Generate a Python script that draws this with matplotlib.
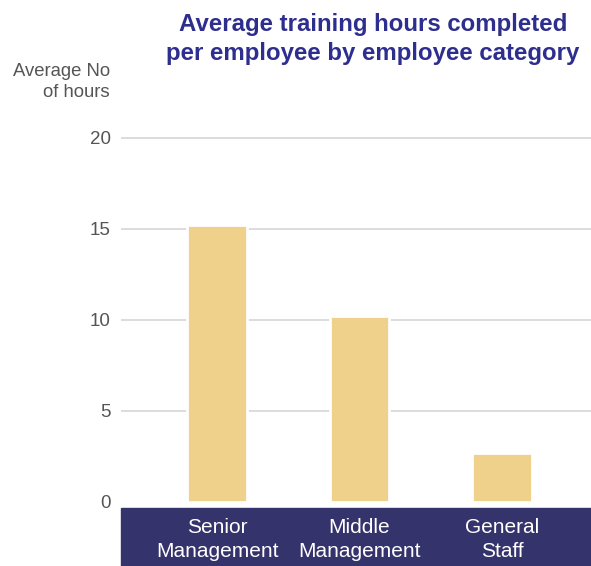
import matplotlib.pyplot as plt
from matplotlib.patches import Rectangle

categories = ["Senior\nManagement", "Middle\nManagement", "General\nStaff"]
hours = [15.2, 10.2, 2.7]
yticks = [0, 5, 10, 15, 20]

bar_color = "#efd18c"
band_color = "#35336b"
title_color = "#2e2e8e"
text_gray = "#555555"

plt.rcParams["font.family"] = ["Liberation Sans", "DejaVu Sans"]

W, H = 591, 566
fig = plt.figure(figsize=(W / 100, H / 100), dpi=100)

# dark band behind the category labels
fig.patches.append(Rectangle((121 / W, 0), 1 - 121 / W, 58 / H, transform=fig.transFigure,
                             color=band_color, zorder=0))

# axes placed in pixel terms: left at 121, bottom at 508, top at ~129
ax = fig.add_axes([121 / W, (H - 508) / H, 1 - 121 / W, (508 - 128.9) / H])
ax.set_zorder(2)
ax.patch.set_alpha(0)

x = list(range(len(categories)))
ax.bar(x, hours, width=0.42, color=bar_color, edgecolor="white", linewidth=2, zorder=3)

ax.set_xlim(-0.674, 2.625)
ax.set_ylim(-0.33, 20.5)
ax.set_yticks(yticks)
ax.set_yticklabels([str(t) for t in yticks])
ax.yaxis.grid(True, color="#d9d9d9", linewidth=1.3, zorder=0)
ax.get_ygridlines()[0].set_visible(False)
ax.set_axisbelow(True)
for s in ax.spines.values():
    s.set_visible(False)
ax.tick_params(axis="y", length=0, pad=7.5, labelsize=13.5, labelcolor=text_gray)

ax.set_xticks(x)
ax.set_xticklabels(categories, linespacing=1.32)
ax.tick_params(axis="x", length=0, pad=7, labelsize=15, labelcolor="white")

fig.text(373 / W, 1 - 39 / H, "Average training hours completed\nper employee by employee category",
         ha="center", va="center", fontsize=17.3, fontweight="bold", color=title_color,
         linespacing=1.3)
fig.text(110 / W, 1 - 82 / H, "Average No\nof hours", ha="right", va="center",
         fontsize=13.3, color=text_gray, linespacing=1.3)

fig.savefig("out.png", dpi=100)
